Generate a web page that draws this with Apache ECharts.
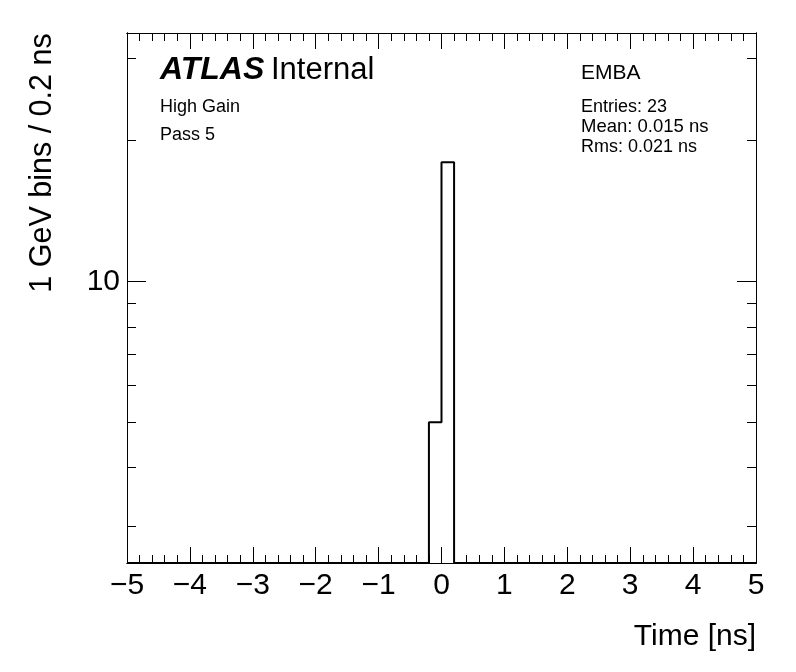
<!DOCTYPE html>
<html>
<head>
<meta charset="utf-8">
<script src="https://cdn.jsdelivr.net/npm/echarts@6/dist/echarts.min.js"></script>
<style>
html,body{margin:0;padding:0;background:#fff;}
#chart{width:796px;height:672px;}
</style>
</head>
<body>
<div id="chart"></div>
<script>
// ---- data ----
const xRange = [-5, 5];
const binWidth = 0.2;
const filledBinLowEdges = [-0.2, 0.0];
const filledBinCounts = [5, 18];
const yRange = [2.5, 34];
const xMajorTicks = [-5, -4, -3, -2, -1, 0, 1, 2, 3, 4, 5];
const xMinorStep = 0.2;
const yMajorTicks = [10];
const yMinorTicks = [3, 4, 5, 6, 7, 8, 9, 20, 30];
const statLines = ['Entries: 23', 'Mean: 0.015 ns', 'Rms: 0.021 ns'];
const infoLines = ['High Gain', 'Pass 5'];
const regionLabel = 'EMBA';

// ---- build step outline ----
const floorVal = yRange[0];
const stepData = [[xRange[0], floorVal]];
filledBinLowEdges.forEach((lo, i) => stepData.push([lo, filledBinCounts[i]]));
const lastHigh = +(filledBinLowEdges[filledBinLowEdges.length - 1] + binWidth).toFixed(6);
stepData.push([lastHigh, floorVal]);
stepData.push([xRange[1], floorVal]);

// minor tick positions (axis decoration only)
const xMinorTicks = [];
for (let k = 0; k <= Math.round((xRange[1] - xRange[0]) / xMinorStep); k++) {
  const v = +(xRange[0] + k * xMinorStep).toFixed(6);
  if (Math.abs(v - Math.round(v)) > 1e-6) xMinorTicks.push(v);
}

const FONT = '"Liberation Sans", Arial, Helvetica, sans-serif';
const black = '#000';

function xAxisDef(pos, ticks, len, labels) {
  return {
    type: 'value', position: pos, min: xRange[0], max: xRange[1], interval: 1,
    axisLine: { show: true, onZero: false, lineStyle: { color: black, width: 1 } },
    axisTick: { show: true, inside: true, length: len, customValues: ticks, lineStyle: { color: black, width: 1 } },
    splitLine: { show: false },
    axisLabel: labels ? {
      show: true, customValues: ticks, fontFamily: FONT, fontSize: 30, color: black, margin: 8,
      formatter: v => String(v).replace('-', '\u2212')
    } : { show: false }
  };
}
function yAxisDef(pos, ticks, len, labels) {
  return {
    type: 'log', logBase: 10, position: pos, min: yRange[0], max: yRange[1],
    axisLine: { show: true, onZero: false, lineStyle: { color: black, width: 1 } },
    axisTick: { show: true, inside: true, length: len, customValues: ticks, lineStyle: { color: black, width: 1 } },
    splitLine: { show: false },
    axisLabel: labels ? { show: true, customValues: ticks, fontFamily: FONT, fontSize: 30, color: black, margin: 7 } : { show: false }
  };
}

const chart = echarts.init(document.getElementById('chart'), null, { renderer: 'canvas' });
chart.setOption({
  animation: false,
  backgroundColor: '#fff',
  grid: { left: 127, right: 40, top: 33, bottom: 109, containLabel: false },
  xAxis: [
    xAxisDef('bottom', xMajorTicks, 16, true),
    xAxisDef('bottom', xMinorTicks, 8, false),
    xAxisDef('top', xMajorTicks, 16, false),
    xAxisDef('top', xMinorTicks, 8, false)
  ],
  yAxis: [
    yAxisDef('left', yMajorTicks, 19, true),
    yAxisDef('left', yMinorTicks, 9, false),
    yAxisDef('right', yMajorTicks, 19, false),
    yAxisDef('right', yMinorTicks, 9, false)
  ],
  series: [{
    type: 'line', xAxisIndex: 0, yAxisIndex: 0, step: 'end',
    data: stepData, symbol: 'none', clip: true,
    lineStyle: { color: black, width: 2 }
  }],
  graphic: [
    { type: 'text', x: 160, y: 70, style: {
        text: '{a|ATLAS}{g| }{b|Internal}', verticalAlign: 'middle', align: 'left',
        rich: {
          a: { fontFamily: FONT, fontSize: 32, fontWeight: 'bold', fontStyle: 'italic', fill: black },
          g: { fontFamily: FONT, fontSize: 24, fill: black },
          b: { fontFamily: FONT, fontSize: 31, fill: black }
        } } },
    { type: 'text', x: 160, y: 107, style: { text: infoLines[0], fontFamily: FONT, fontSize: 18, fill: black, verticalAlign: 'middle' } },
    { type: 'text', x: 160, y: 135, style: { text: infoLines[1], fontFamily: FONT, fontSize: 18, fill: black, verticalAlign: 'middle' } },
    { type: 'text', x: 581, y: 73, style: { text: regionLabel, fontFamily: FONT, fontSize: 21, fill: black, verticalAlign: 'middle' } },
    { type: 'text', x: 581, y: 107, style: { text: statLines[0], fontFamily: FONT, fontSize: 18, fill: black, verticalAlign: 'middle' } },
    { type: 'text', x: 581, y: 127, style: { text: statLines[1], fontFamily: FONT, fontSize: 18.5, fill: black, verticalAlign: 'middle' } },
    { type: 'text', x: 581, y: 147, style: { text: statLines[2], fontFamily: FONT, fontSize: 18, fill: black, verticalAlign: 'middle' } },
    { type: 'text', x: 43, y: 163, rotation: Math.PI / 2, style: { text: '1 GeV bins / 0.2 ns', fontFamily: FONT, fontSize: 30.5, fill: black, align: 'center', verticalAlign: 'middle' } },
    { type: 'text', x: 756, y: 637, style: { text: 'Time [ns]', fontFamily: FONT, fontSize: 30, fill: black, align: 'right', verticalAlign: 'middle' } }
  ]
});
</script>
</body>
</html>
